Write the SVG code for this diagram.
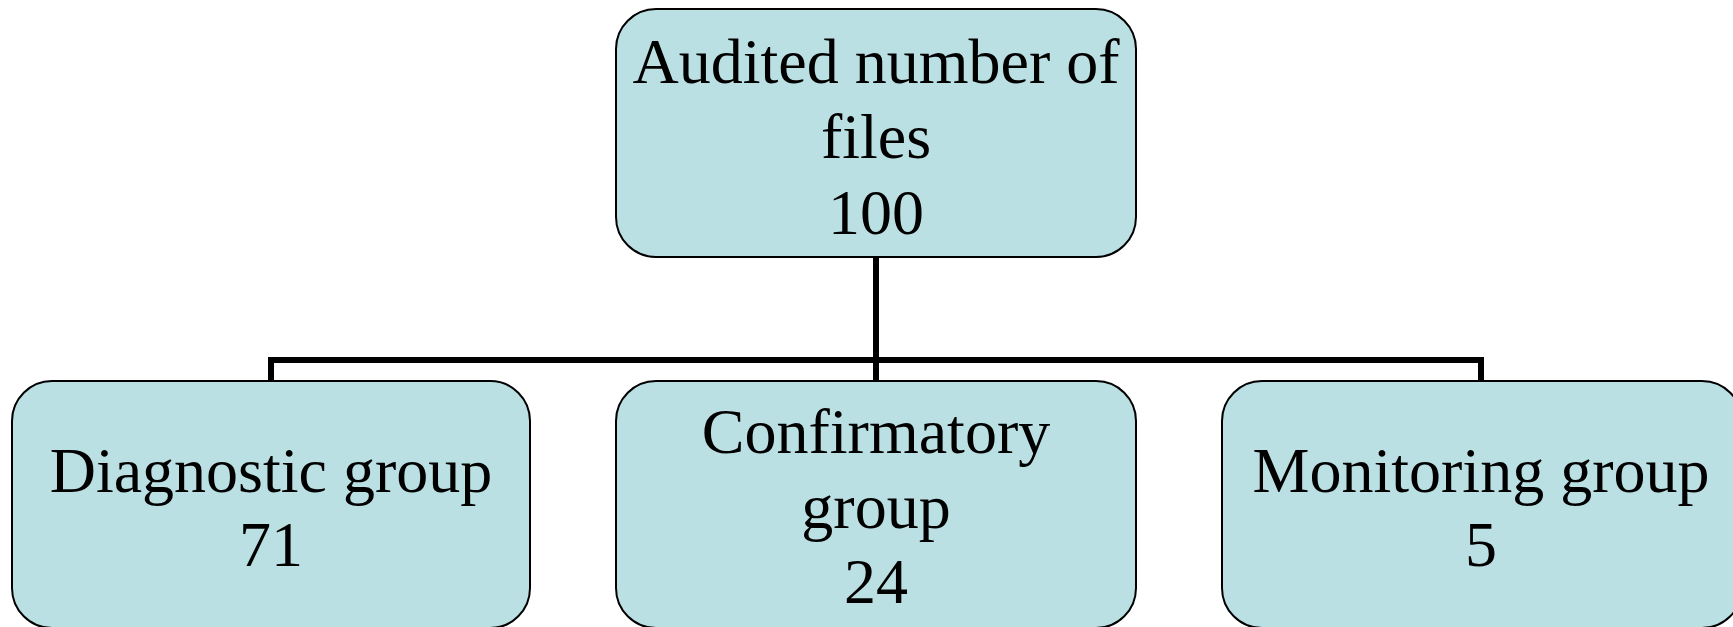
<svg xmlns="http://www.w3.org/2000/svg" width="1733" height="627" viewBox="0 0 1733 627">
  <style>
    .box { fill: #BBE0E3; stroke: #000000; stroke-width: 2; }
    .lbl { font-family: "Liberation Serif", "Times New Roman", serif; font-size: 64px; fill: #000000; text-anchor: middle; }
    .link { fill: none; stroke: #000000; stroke-width: 6; stroke-linejoin: miter; }
  </style>
  <rect width="1733" height="627" fill="#FFFFFF"/>

  <!-- tree connectors -->
  <g id="connectors">
    <path class="link" d="M876 258 V381"/>
    <path class="link" d="M271 381 V360 H1481 V381"/>
  </g>

  <g id="node-audited">
    <rect class="box" x="616" y="9" width="520" height="248" rx="40" ry="40"/>
    <text class="lbl" x="876" y="83">Audited number of</text>
    <text class="lbl" x="876" y="158">files</text>
    <text class="lbl" x="876" y="234">100</text>
  </g>

  <g id="node-diagnostic">
    <rect class="box" x="12" y="381" width="518" height="247" rx="40" ry="40"/>
    <text class="lbl" x="271" y="492">Diagnostic group</text>
    <text class="lbl" x="271" y="566">71</text>
  </g>

  <g id="node-confirmatory">
    <rect class="box" x="616" y="381" width="520" height="247" rx="40" ry="40"/>
    <text class="lbl" x="876" y="453">Confirmatory</text>
    <text class="lbl" x="876" y="528">group</text>
    <text class="lbl" x="876" y="603">24</text>
  </g>

  <g id="node-monitoring">
    <rect class="box" x="1222" y="381" width="520" height="247" rx="40" ry="40"/>
    <text class="lbl" x="1481" y="492">Monitoring group</text>
    <text class="lbl" x="1481" y="566">5</text>
  </g>
</svg>
